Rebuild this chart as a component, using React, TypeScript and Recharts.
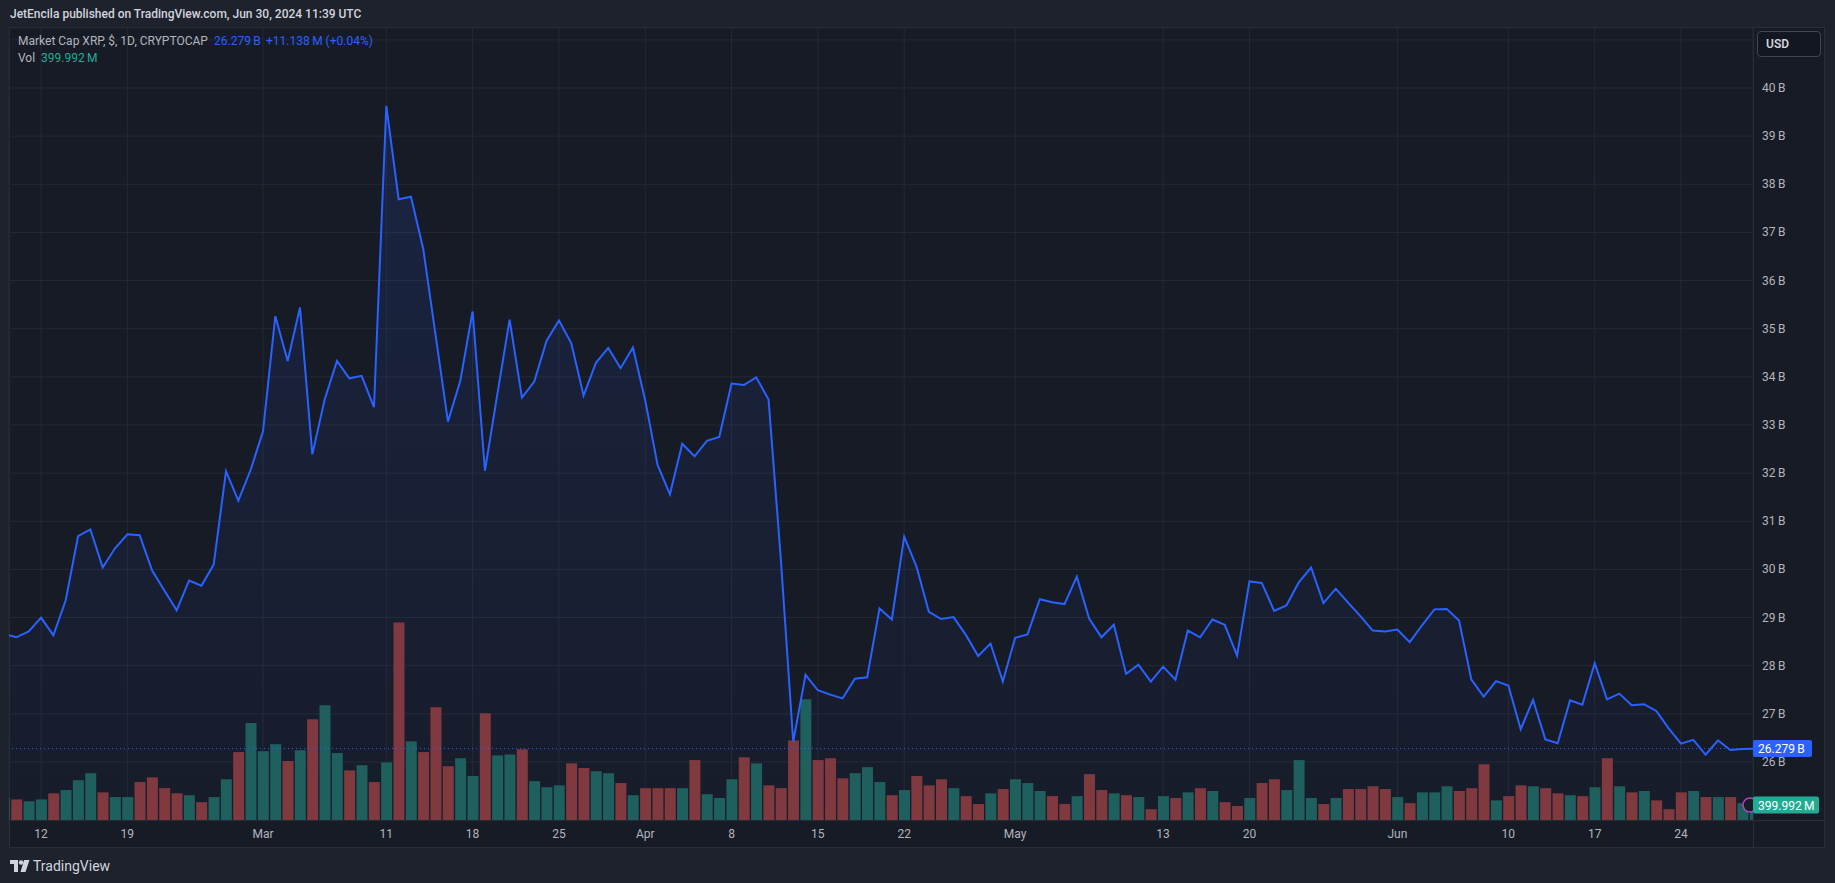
import {
  Area,
  Bar,
  CartesianGrid,
  Cell,
  ComposedChart,
  Line,
  ReferenceLine,
  XAxis,
  YAxis,
} from "recharts";

// market cap, billions USD, one value per day (Feb 9 .. Jun 30, 2024)
const capFeb = [
  28.66, 28.59, 28.71, 29.0, 28.63, 29.36, 30.69, 30.83, 30.04, 30.44, 30.73,
  30.71, 29.98, 29.56, 29.15, 29.77, 29.66, 30.1, 32.04, 31.43, 32.07,
];
const capMar = [
  32.87, 35.26, 34.33, 35.44, 32.39, 33.53, 34.33, 33.97, 34.02, 33.37, 39.63,
  37.69, 37.74, 36.65, 34.86, 33.07, 33.92, 35.36, 32.05, 33.63, 35.19, 33.57,
  33.9, 34.75, 35.17, 34.7, 33.61, 34.29, 34.6, 34.18, 34.61,
];
const capApr = [
  33.51, 32.17, 31.56, 32.61, 32.35, 32.67, 32.75, 33.86, 33.83, 33.99, 33.53,
  30.2, 26.42, 27.81, 27.49, 27.4, 27.32, 27.73, 27.76, 29.19, 28.96, 30.68,
  30.06, 29.12, 28.97, 29.01, 28.64, 28.2, 28.46, 27.67,
];
const capMay = [
  28.58, 28.65, 29.38, 29.32, 29.28, 29.85, 28.98, 28.59, 28.85, 27.83, 28.02,
  27.67, 27.98, 27.71, 28.73, 28.59, 28.96, 28.85, 28.21, 29.75, 29.72, 29.14,
  29.25, 29.73, 30.04, 29.3, 29.6, 29.31, 29.03, 28.73, 28.71,
];
const capJun = [
  28.75, 28.49, 28.84, 29.17, 29.18, 28.94, 27.71, 27.36, 27.68, 27.59, 26.68,
  27.29, 26.47, 26.39, 27.28, 27.19, 28.05, 27.3, 27.42, 27.18, 27.2, 27.06,
  26.7, 26.38, 26.46, 26.15, 26.45, 26.25, 26.268, 26.279,
];

// volume, millions USD
const volFeb = [
  600, 550, 500, 550, 713, 801, 1064, 1252, 739, 613, 613, 1014, 1139, 851, 713,
  663, 476, 613, 1089, 1815, 2591,
];
const volMar = [
  1840, 2028, 1577, 1865, 2691, 3067, 1790, 1327, 1465, 1014, 1540, 5282, 2103,
  1815, 3017, 1439, 1652, 1177, 2854, 1727, 1752, 1890, 1039, 876, 926, 1514,
  1389, 1302, 1252, 988, 663,
];
const volApr = [
  851, 851, 851, 851, 1602, 689, 588, 1089, 1677, 1514, 926, 851, 2128, 3229,
  1602, 1652, 1114, 1252, 1414, 1014, 663, 801, 1177, 926, 1089, 851, 638, 426,
  713, 826,
];
const volMay = [
  1089, 988, 776, 638, 426, 638, 1227, 801, 713, 663, 613, 288, 638, 588, 739,
  851, 776, 476, 375, 588, 988, 1089, 801, 1602, 588, 426, 588, 826, 826, 901,
  826,
];
const volJun = [
  613, 451, 739, 739, 901, 776, 851, 1490, 525, 638, 926, 901, 851, 713, 663,
  638, 876, 1652, 901, 739, 776, 525, 288, 739, 776, 613, 613, 613, 451,
  399.992,
];

// days counted from Mar 1 (Feb 9 = -21)
const firstDay = -21;
const tickDays = [-18, -11, 0, 10, 17, 24, 31, 38, 45, 52, 61, 73, 80, 92, 101, 108, 115];
const tickLabels = [
  "12", "19", "Mar", "11", "18", "25", "Apr", "8", "15", "22",
  "May", "13", "20", "Jun", "10", "17", "24",
];
const priceTicks = [25, 26, 27, 28, 29, 30, 31, 32, 33, 34, 35, 36, 37, 38, 39, 40, 41];

const caps = [...capFeb, ...capMar, ...capApr, ...capMay, ...capJun];
const vols = [...volFeb, ...volMar, ...volApr, ...volMay, ...volJun];

const rows = caps.map((cap, i) => ({
  day: firstDay + i,
  cap,
  vol: vols[i],
  up: i === 0 || cap >= caps[i - 1],
}));

const lastCap = caps[caps.length - 1];
const lastVol = vols[vols.length - 1];

const UP = "#1f5f5e";
const DOWN = "#80393f";
const BLUE = "#2962ff";
const TEAL = "#22ab94";
const TEXT = "#b2b5be";
const FONT = "Roboto, sans-serif";

function TimeTick(props: any) {
  const { x, y, payload } = props;
  const label = tickLabels[tickDays.indexOf(payload.value)];
  return (
    <text x={x} y={y + 18} textAnchor="middle" fill={TEXT} fontSize={12} fontFamily={FONT}>
      {label}
    </text>
  );
}

function PriceTick(props: any) {
  const { x, y, payload } = props;
  if (payload.value === 25 || payload.value === 41) return null;
  return (
    <text x={x} y={y + 4} textAnchor="start" fill={TEXT} fontSize={12} fontFamily={FONT}>
      {`${payload.value}\u2009B`}
    </text>
  );
}

function CapTag(props: any) {
  const { viewBox } = props;
  if (!viewBox) return null;
  const x = viewBox.x + viewBox.width;
  const y = viewBox.y;
  return (
    <g>
      <rect x={x} y={y - 8.5} width={59} height={17} rx={2} fill={BLUE} />
      <text x={x + 5} y={y + 4.5} fill="#ffffff" fontSize={12} fontFamily={FONT}>
        {`${lastCap.toFixed(3)}\u2009B`}
      </text>
    </g>
  );
}

function VolTag(props: any) {
  const { viewBox } = props;
  if (!viewBox) return null;
  const x = viewBox.x + viewBox.width;
  const y = viewBox.y;
  return (
    <g>
      <circle cx={x - 3} cy={y} r={7} fill="#171b26" stroke="#ab47bc" strokeWidth={1.5} />
      <rect x={x} y={y - 8.5} width={66} height={17} rx={2} fill={TEAL} />
      <text x={x + 5} y={y + 4.5} fill="#ffffff" fontSize={12} fontFamily={FONT}>
        {`${lastVol.toFixed(3)}\u2009M`}
      </text>
    </g>
  );
}

export default function App() {
  return (
    <div
      style={{
        position: "absolute",
        left: 0,
        top: 0,
        width: 1835,
        height: 883,
        background: "#1e222d",
        fontFamily: FONT,
        overflow: "hidden",
      }}
    >
      <div
        style={{
          position: "absolute",
          left: 10,
          top: 6,
          fontSize: 12,
          fontWeight: 500,
          lineHeight: "16px",
          color: "#d1d4dc",
          whiteSpace: "nowrap",
        }}
      >
        JetEncila published on TradingView.com, Jun 30, 2024 11:39 UTC
      </div>

      <div
        style={{
          position: "absolute",
          left: 9,
          top: 27,
          width: 1816,
          height: 821,
          background: "#171b26",
          border: "1px solid #2a2e39",
          boxSizing: "border-box",
        }}
      />
      <div style={{ position: "absolute", left: 1753, top: 27, width: 1, height: 821, background: "#2a2e39" }} />
      <div style={{ position: "absolute", left: 9, top: 820, width: 1816, height: 1, background: "#2a2e39" }} />

      <div style={{ position: "absolute", left: 0, top: 0 }}>
        <ComposedChart
          width={1835}
          height={883}
          data={rows}
          margin={{ top: 28, right: 10, bottom: 35, left: 9 }}
        >
          <defs>
            <linearGradient id="capFill" x1="0" y1="0" x2="0" y2="1">
              <stop offset="0%" stopColor={BLUE} stopOpacity={0.22} />
              <stop offset="100%" stopColor={BLUE} stopOpacity={0.03} />
            </linearGradient>
          </defs>

          <CartesianGrid yAxisId="cap" stroke="#252934" />

          <XAxis
            dataKey="day"
            type="number"
            domain={[-20.6, 120.84]}
            allowDataOverflow
            ticks={tickDays}
            interval={0}
            height={28}
            tickSize={0}
            tickMargin={0}
            tick={<TimeTick />}
            axisLine={false}
            tickLine={false}
          />

          <YAxis
            yAxisId="cap"
            orientation="right"
            width={72}
            domain={[24.795, 41.246]}
            allowDataOverflow
            ticks={priceTicks}
            interval={0}
            tickSize={0}
            tickMargin={9}
            tick={<PriceTick />}
            axisLine={false}
            tickLine={false}
          />

          <YAxis yAxisId="vol" hide domain={[0, 21170]} allowDataOverflow />

          <Area
            yAxisId="cap"
            dataKey="cap"
            type="linear"
            stroke="none"
            fill="url(#capFill)"
            isAnimationActive={false}
          />

          <Bar yAxisId="vol" dataKey="vol" barSize={11} isAnimationActive={false}>
            {rows.map((row) => (
              <Cell key={row.day} fill={row.up ? UP : DOWN} />
            ))}
          </Bar>

          <Line
            yAxisId="cap"
            dataKey="cap"
            type="linear"
            stroke={BLUE}
            strokeWidth={2}
            dot={false}
            activeDot={false}
            isAnimationActive={false}
          />

          <ReferenceLine
            yAxisId="cap"
            y={lastCap}
            stroke={BLUE}
            strokeDasharray="1 3"
            label={<CapTag />}
          />

          <ReferenceLine yAxisId="vol" y={lastVol} stroke="none" label={<VolTag />} />
        </ComposedChart>
      </div>

      <div style={{ position: "absolute", left: 18, top: 33, fontSize: 12, lineHeight: "16px", whiteSpace: "nowrap" }}>
        <span style={{ color: TEXT }}>Market Cap XRP, $, 1D, CRYPTOCAP</span>
      </div>
      <div style={{ position: "absolute", left: 214, top: 33, fontSize: 12, lineHeight: "16px", color: BLUE, whiteSpace: "nowrap" }}>
        26.279{"\u2009"}B
      </div>
      <div style={{ position: "absolute", left: 266, top: 33, fontSize: 12, lineHeight: "16px", color: BLUE, whiteSpace: "nowrap" }}>
        +11.138{"\u2009"}M (+0.04%)
      </div>
      <div style={{ position: "absolute", left: 18, top: 50, fontSize: 12, lineHeight: "16px", color: TEXT }}>
        Vol
      </div>
      <div style={{ position: "absolute", left: 41, top: 50, fontSize: 12, lineHeight: "16px", color: TEAL }}>
        399.992{"\u2009"}M
      </div>

      <div
        style={{
          position: "absolute",
          left: 1757,
          top: 31,
          width: 64,
          height: 26,
          boxSizing: "border-box",
          border: "1px solid #434651",
          borderRadius: 4,
          background: "#131722",
          color: "#d1d4dc",
          fontSize: 12,
          fontWeight: 600,
          lineHeight: "24px",
          paddingLeft: 8,
        }}
      >
        USD
      </div>

      <svg style={{ position: "absolute", left: 10, top: 860 }} width={20} height={13}>
        <rect x={0} y={0} width={8} height={4} fill="#d1d4dc" />
        <rect x={4} y={0} width={4} height={12} fill="#d1d4dc" />
        <circle cx={11} cy={2.5} r={2.2} fill="#d1d4dc" />
        <polygon points="14,0 19.5,0 15.5,12 10.5,12" fill="#d1d4dc" />
      </svg>
      <div
        style={{
          position: "absolute",
          left: 33,
          top: 857,
          fontSize: 14,
          lineHeight: "18px",
          color: "#d1d4dc",
        }}
      >
        TradingView
      </div>
    </div>
  );
}
